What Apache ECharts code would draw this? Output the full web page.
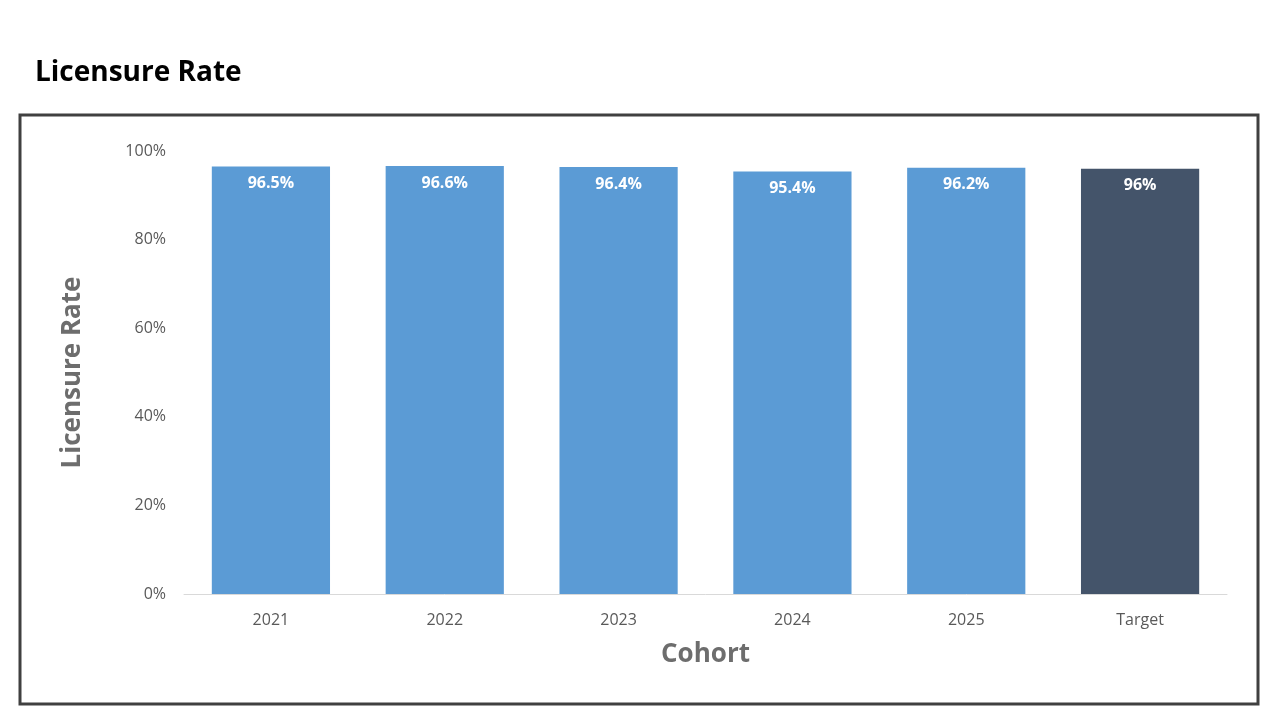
<!DOCTYPE html>
<html><head><meta charset="utf-8">
<script src="https://cdn.jsdelivr.net/npm/echarts@6/dist/echarts.min.js"></script>
<style>html,body{margin:0;padding:0;background:#fff}#c{width:1280px;height:720px}</style>
</head><body><div id="c"></div>
<script>
const categories = ['2021','2022','2023','2024','2025','Target'];
const values = [96.5, 96.6, 96.4, 95.4, 96.2, 96];
const labels = ['96.5%','96.6%','96.4%','95.4%','96.2%','96%'];
const yTicks = [0,20,40,60,80,100];
const chart = echarts.init(document.getElementById('c'));
chart.setOption({
  animation:false,
  title:{text:'Licensure Rate',left:30,top:54,textStyle:{fontFamily:'Open Sans',fontWeight:'bold',fontSize:28,color:'#000'}},
  graphic:[{type:'rect',shape:{x:20,y:115,width:1238,height:589},style:{fill:'none',stroke:'#404040',lineWidth:3}}],
  grid:{left:184,right:53,top:151,bottom:126},
  xAxis:{type:'category',data:categories,name:'Cohort',nameLocation:'middle',nameGap:48,
    nameTextStyle:{fontFamily:'Open Sans',fontWeight:'bold',fontSize:26,color:'#6d6d6d'},
    axisLine:{lineStyle:{color:'#d9d9d9'}},axisTick:{show:false},
    axisLabel:{fontFamily:'Open Sans',fontSize:16,color:'#595959',margin:18}},
  yAxis:{type:'value',min:0,max:100,interval:20,name:'Licensure Rate',nameLocation:'middle',nameGap:98,
    nameTextStyle:{fontFamily:'Open Sans',fontWeight:'bold',fontSize:26,color:'#6d6d6d'},
    splitLine:{show:false},axisLine:{show:false},axisTick:{show:false},
    axisLabel:{fontFamily:'Open Sans',fontSize:16,color:'#595959',margin:18,formatter:v=>yTicks.includes(v)?v+'%':''}},
  series:[{type:'bar',barCategoryGap:'32%',
    data:values.map((v,i)=>({value:v,itemStyle:{color:i===5?'#44546a':'#5b9bd5'}})),
    label:{show:true,position:'insideTop',distance:9,color:'#fff',fontFamily:'Open Sans',fontWeight:'bold',fontSize:16,
      formatter:p=>labels[p.dataIndex]}}]
});
</script></body></html>
